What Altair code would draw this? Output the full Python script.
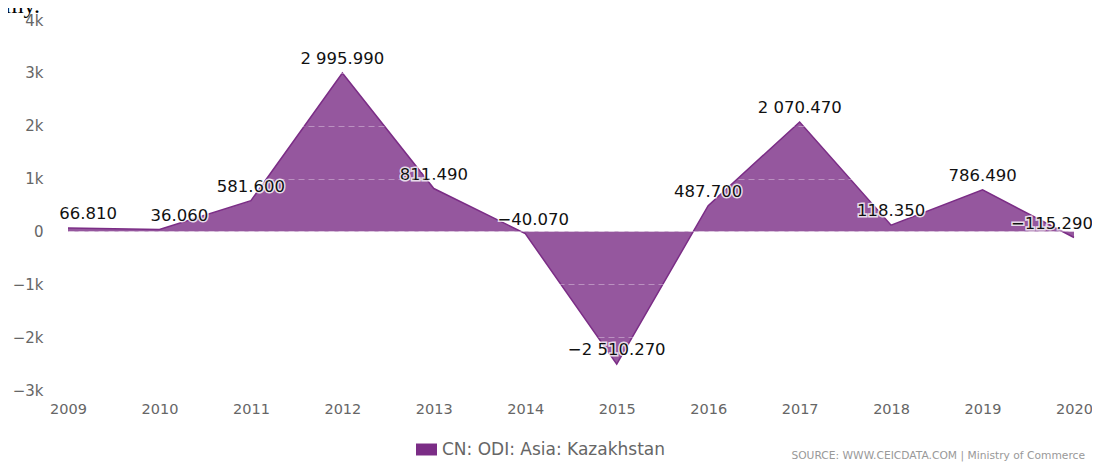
import altair as alt
import pandas as pd

years = [2009, 2010, 2011, 2012, 2013, 2014, 2015, 2016, 2017, 2018, 2019, 2020]
values = [66.810, 36.060, 581.600, 2995.990, 811.490, -40.070, -2510.270, 487.700, 2070.470, 118.350, 786.490, -115.290]
series_name = "CN: ODI: Asia: Kazakhstan"
y_ticks = [-3000, -2000, -1000, 0, 1000, 2000, 3000, 4000]
source_text = "SOURCE: WWW.CEICDATA.COM | Ministry of Commerce"
top_fragment = "my."

df = pd.DataFrame({"year": years, "value": values, "series": [series_name] * len(years)})

PURPLE = "#7b2d86"
FONT = "DejaVu Sans"

base = alt.Chart(df)

x_enc = alt.X("year:Q", scale=alt.Scale(domain=[2009, 2020], nice=False, zero=False),
              axis=alt.Axis(values=years, format="d", title=None, grid=False, domain=False,
                            ticks=False, labelFontSize=14.5, labelColor="#666666", labelFont=FONT,
                            labelPadding=12, labelFlush=False))
y_enc = alt.Y("value:Q", scale=alt.Scale(domain=[-3000, 4000], nice=False),
              axis=alt.Axis(values=y_ticks, title=None, domain=False, ticks=False,
                            labelExpr="datum.value == 0 ? '0' : format(datum.value, '~s')",
                            labelFontSize=15, labelColor="#666666", labelFont=FONT, labelPadding=25,
                            grid=True, gridColor="#ffffff", gridOpacity=0.35, gridDash=[6, 4],
                            gridWidth=1, zindex=1))

area = base.mark_area(opacity=0.8, line=False).encode(
    x=x_enc, y=y_enc,
    color=alt.Color("series:N", scale=alt.Scale(range=[PURPLE]),
                    legend=alt.Legend(title=None, orient="none", legendX=348, legendY=419,
                                      symbolType="M-1,-0.57H1V0.57H-1Z", symbolSize=441,
                                      symbolOpacity=1, symbolStrokeWidth=0, labelFontSize=17,
                                      labelColor="#666666", labelFont=FONT, labelOffset=5,
                                      labelLimit=0, padding=0)),
)
line = base.mark_line(color=PURPLE, strokeWidth=1.5).encode(x=x_enc, y=y_enc)

label_expr = "replace(format(datum.value, ',.3f'), ',', ' ')"

def labels(filter_expr, dx):
    src_ = base.transform_filter(filter_expr).transform_calculate(lbl=label_expr)
    halo = src_.mark_text(
        fontSize=16.5, font=FONT, color="white", stroke="white", strokeWidth=3, strokeOpacity=0.8,
        baseline="middle", dy=-14, dx=dx).encode(x=x_enc, y=y_enc, text="lbl:N")
    front = src_.mark_text(
        fontSize=16.5, font=FONT, color="#111111", baseline="middle", dy=-14, dx=dx).encode(
        x=x_enc, y=y_enc, text="lbl:N")
    return halo + front

lab_left = labels("datum.year <= 2010", 20)
lab_mid = labels("datum.year > 2010 && datum.year < 2020 && datum.year != 2014", 0)
lab_2014 = labels("datum.year == 2014", 8)
lab_right = labels("datum.year == 2020", -22)

src = alt.Chart(pd.DataFrame({"t": [source_text]})).mark_text(
    fontSize=10.7, font=FONT, color="#999999", align="right", baseline="alphabetic").encode(
    x=alt.value(1017), y=alt.value(439), text="t:N")

frag = alt.Chart(pd.DataFrame({"t": [top_fragment]})).mark_text(
    fontSize=24, font="Liberation Serif", color="#000000", align="right", baseline="alphabetic").encode(
    x=alt.value(-28), y=alt.value(-7), text="t:N")

chart = alt.layer(area, line, lab_left, lab_mid, lab_2014, lab_right, src, frag).properties(
    width=1006, height=370,
    background="white",
    autosize=alt.AutoSizeParams(type="none"),
    padding={"left": 60, "top": 12, "right": 18, "bottom": 73},
).configure_view(stroke="transparent", strokeWidth=0)

chart.save("out.html", embed_options={"renderer": "svg", "actions": False})
